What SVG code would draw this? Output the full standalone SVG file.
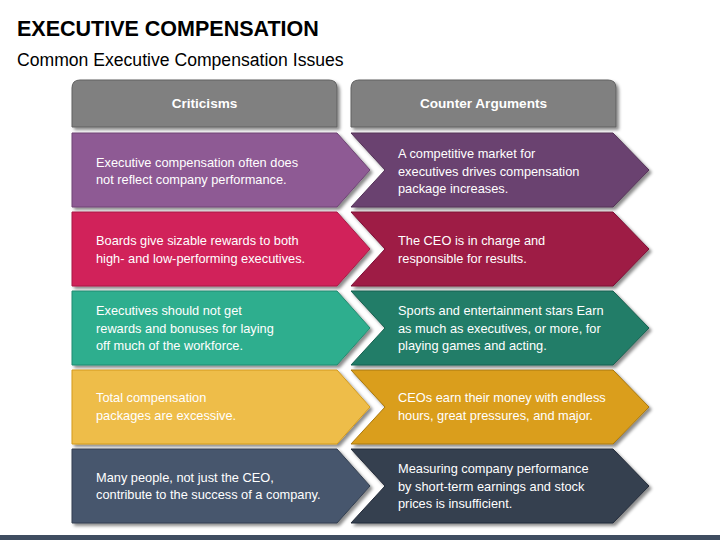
<svg xmlns="http://www.w3.org/2000/svg" width="720" height="540" viewBox="0 0 720 540">
<defs>
<filter id="sh" x="-10%" y="-10%" width="125%" height="130%">
<feDropShadow dx="2.5" dy="2.5" stdDeviation="1.8" flood-color="#000" flood-opacity="0.45"/>
</filter>
<path id="L" d="M0,0 H265 L298,37 L265,74 H0 Z"/>
<path id="R" d="M0,0 H262 L298,37 L262,74 H0 L34,37 Z"/>
</defs>
<style>
.t{font-family:"Liberation Sans",Arial,sans-serif;fill:#fff;font-size:12.8px}
.h{font-family:"Liberation Sans",Arial,sans-serif;fill:#fff;font-size:13.6px;font-weight:bold;text-anchor:middle}
.title{font-family:"Liberation Sans",Arial,sans-serif;fill:#000;font-size:21.5px;font-weight:bold}
.sub{font-family:"Liberation Sans",Arial,sans-serif;fill:#000;font-size:17.6px}
.hd{fill:#808080;stroke:#606060;stroke-width:1}
</style>
<rect width="720" height="540" fill="#fff"/>
<text class="title" x="17" y="36">EXECUTIVE COMPENSATION</text>
<text class="sub" x="17" y="66">Common Executive Compensation Issues</text>

<g id="header-criticisms">
<path class="hd" filter="url(#sh)" d="M72,127 V88 Q72,80 80,80 H329 Q337,80 337,88 V127 Z"/>
<text class="h" x="204.5" y="107.5">Criticisms</text>
</g>
<g id="header-counter">
<path class="hd" filter="url(#sh)" d="M351,127 V88 Q351,80 359,80 H608 Q616,80 616,88 V127 Z"/>
<text class="h" x="483.5" y="107.5">Counter Arguments</text>
</g>

<g id="row1-left">
<use href="#L" x="72" y="133" fill="#8E5A94" stroke="#6e4474" stroke-width="1" filter="url(#sh)"/>
<text class="t" x="96" y="166.5">Executive compensation often does</text>
<text class="t" x="96" y="184">not reflect company performance.</text>
</g>
<g id="row1-right">
<use href="#R" x="351" y="133" fill="#6B4370" stroke="#543357" stroke-width="1" filter="url(#sh)"/>
<text class="t" x="398" y="158">A competitive market for</text>
<text class="t" x="398" y="175.5">executives drives compensation</text>
<text class="t" x="398" y="193">package increases.</text>
</g>

<g id="row2-left">
<use href="#L" x="72" y="212" fill="#D1245A" stroke="#a81a46" stroke-width="1" filter="url(#sh)"/>
<text class="t" x="96" y="245">Boards give sizable rewards to both</text>
<text class="t" x="96" y="262.5">high- and low-performing executives.</text>
</g>
<g id="row2-right">
<use href="#R" x="351" y="212" fill="#9E1A45" stroke="#7d1235" stroke-width="1" filter="url(#sh)"/>
<text class="t" x="398" y="245">The CEO is in charge and</text>
<text class="t" x="398" y="262.5">responsible for results.</text>
</g>

<g id="row3-left">
<use href="#L" x="72" y="291" fill="#2FAE8E" stroke="#238a70" stroke-width="1" filter="url(#sh)"/>
<text class="t" x="96" y="315">Executives should not get</text>
<text class="t" x="96" y="332.5">rewards and bonuses for laying</text>
<text class="t" x="96" y="350">off much of the workforce.</text>
</g>
<g id="row3-right">
<use href="#R" x="351" y="291" fill="#227D68" stroke="#18604f" stroke-width="1" filter="url(#sh)"/>
<text class="t" x="398" y="315">Sports and entertainment stars Earn</text>
<text class="t" x="398" y="332.5">as much as executives, or more, for</text>
<text class="t" x="398" y="350">playing games and acting.</text>
</g>

<g id="row4-left">
<use href="#L" x="72" y="370" fill="#EEBD4A" stroke="#d39a1c" stroke-width="1" filter="url(#sh)"/>
<text class="t" x="96" y="402">Total compensation</text>
<text class="t" x="96" y="419.5">packages are excessive.</text>
</g>
<g id="row4-right">
<use href="#R" x="351" y="370" fill="#DA9E1A" stroke="#a87810" stroke-width="1" filter="url(#sh)"/>
<text class="t" x="398" y="402">CEOs earn their money with endless</text>
<text class="t" x="398" y="419.5">hours, great pressures, and major.</text>
</g>

<g id="row5-left">
<use href="#L" x="72" y="449" fill="#46566D" stroke="#343f50" stroke-width="1" filter="url(#sh)"/>
<text class="t" x="96" y="481.5">Many people, not just the CEO,</text>
<text class="t" x="96" y="499">contribute to the success of a company.</text>
</g>
<g id="row5-right">
<use href="#R" x="351" y="449" fill="#343F50" stroke="#252d3a" stroke-width="1" filter="url(#sh)"/>
<text class="t" x="398" y="473">Measuring company performance</text>
<text class="t" x="398" y="490.5">by short-term earnings and stock</text>
<text class="t" x="398" y="508">prices is insufficient.</text>
</g>

<g id="connectors"></g>
<rect x="0" y="535" width="720" height="5" fill="#3F4D61"/>
</svg>
